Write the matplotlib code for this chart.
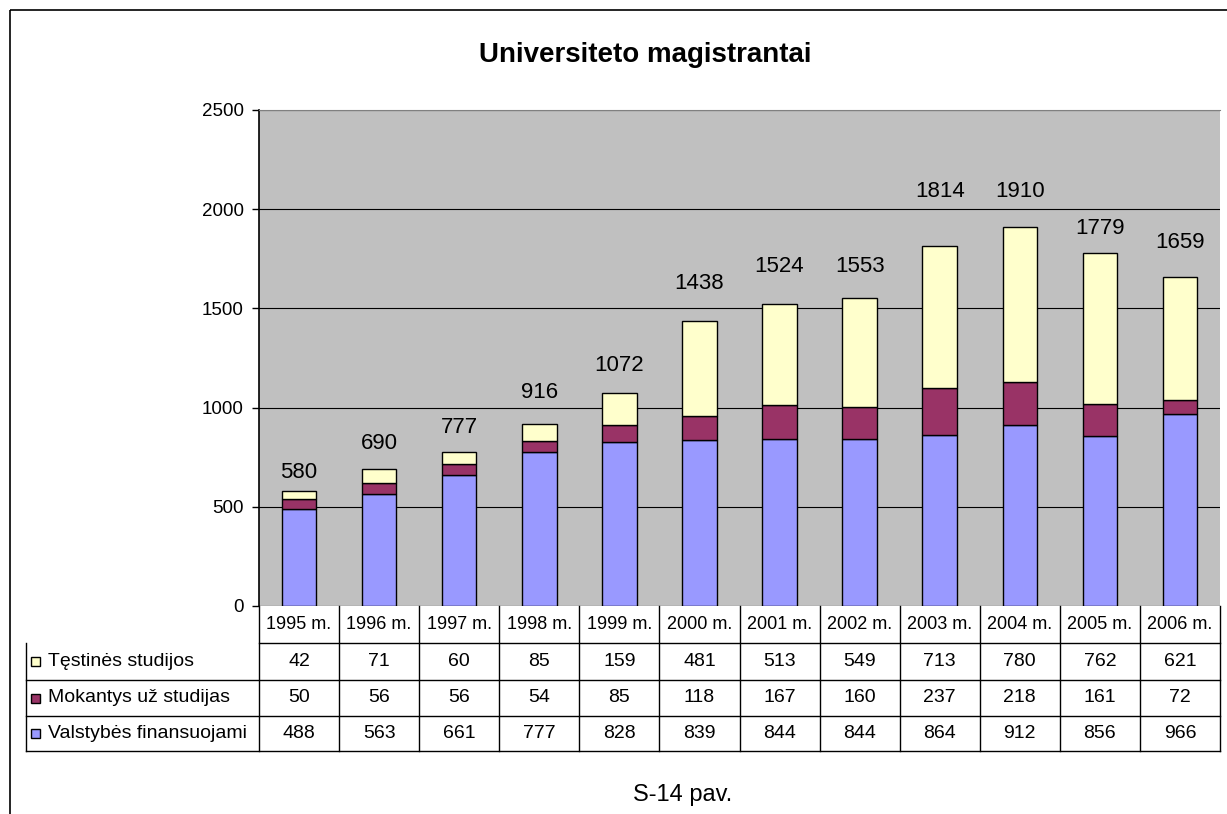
import numpy as np
import matplotlib.pyplot as plt
import matplotlib.transforms as mtransforms
from matplotlib.patches import Rectangle

plt.rcParams["font.family"] = ["Liberation Sans", "DejaVu Sans"]

YEARS = ["1995 m.", "1996 m.", "1997 m.", "1998 m.", "1999 m.", "2000 m.",
         "2001 m.", "2002 m.", "2003 m.", "2004 m.", "2005 m.", "2006 m."]
valstybes = [488, 563, 661, 777, 828, 839, 844, 844, 864, 912, 856, 966]
mokantys = [50, 56, 56, 54, 85, 118, 167, 160, 237, 218, 161, 72]
testines = [42, 71, 60, 85, 159, 481, 513, 549, 713, 780, 762, 621]

SERIES_LABELS = ["Tęstinės studijos", "Mokantys už studijas", "Valstybės finansuojami"]
COLORS = {"val": "#9999FF", "mok": "#993366", "tes": "#FFFFCC"}

# total labels were nudged by hand in the original: pixel gap from bar top to label centre
LABEL_GAP_PX = [18, 26, 24, 32, 28, 37, 37, 31, 55, 36, 25, 34]

W, H = 1227, 814


def main():
    fig = plt.figure(figsize=(W / 100, H / 100), dpi=100)
    # image-pixel coords (origin top-left) -> figure
    pix = mtransforms.Affine2D().scale(1 / W, -1 / H).translate(0, 1) + fig.transFigure

    ax = fig.add_axes([259 / W, 1 - 606 / H, (1220 - 259) / W, (606 - 110) / H])
    ax.set_facecolor("#C0C0C0")

    x = np.arange(len(YEARS))
    val = np.array(valstybes)
    mok = np.array(mokantys)
    tes = np.array(testines)
    total = val + mok + tes

    bw = 0.43
    ax.bar(x, val, bw, color=COLORS["val"], edgecolor="black", linewidth=1, zorder=3)
    ax.bar(x, mok, bw, bottom=val, color=COLORS["mok"], edgecolor="black", linewidth=1, zorder=3)
    ax.bar(x, tes, bw, bottom=val + mok, color=COLORS["tes"], edgecolor="black", linewidth=1, zorder=3)

    for xi, t, gap in zip(x, total, LABEL_GAP_PX):
        ax.annotate(str(t), (xi, t), xytext=(0, gap), textcoords="offset pixels",
                    ha="center", va="center", fontsize=16)

    ax.set_xlim(-0.5, len(YEARS) - 0.5)
    ax.set_ylim(0, 2500)
    ax.set_yticks(np.arange(0, 2501, 500))
    ax.tick_params(axis="y", labelsize=13.5, length=5, width=1, pad=6)
    ax.set_xticks([])
    ax.yaxis.grid(True, color="black", linewidth=0.8, zorder=1)
    ax.set_axisbelow(True)
    ax.spines["top"].set_color("#808080")
    ax.spines["right"].set_visible(False)
    ax.spines["bottom"].set_visible(False)
    ax.spines["left"].set_linewidth(1.2)

    # data table under the chart
    tx = mtransforms.blended_transform_factory(ax.transData, pix)
    rows_y = [606, 643, 680, 716, 751]
    lw = 1.0
    n = len(YEARS)
    fig.add_artist(plt.Line2D([-0.5, n - 0.5], [643, 643], transform=tx, color="black", lw=lw))
    for yy in rows_y[2:]:
        fig.add_artist(plt.Line2D([26, 1220], [yy, yy], transform=pix, color="black", lw=lw))
    for i in range(n + 1):
        fig.add_artist(plt.Line2D([i - 0.5, i - 0.5], [606, rows_y[-1]], transform=tx,
                                  color="black", lw=lw))
    fig.add_artist(plt.Line2D([26, 26], [643, rows_y[-1]], transform=pix, color="black", lw=lw))

    for i, yr in enumerate(YEARS):
        fig.text(i, (606 + 643) / 2, yr, transform=tx, ha="center", va="center", fontsize=13)

    table_rows = [(testines, COLORS["tes"]), (mokantys, COLORS["mok"]), (valstybes, COLORS["val"])]
    for r, ((vals, col), label) in enumerate(zip(table_rows, SERIES_LABELS)):
        yc = (rows_y[r + 1] + rows_y[r + 2]) / 2
        fig.add_artist(Rectangle((31, yc + 4.5), 9, -9, transform=pix, facecolor=col,
                                 edgecolor="black", lw=1))
        fig.text(48, yc, label, transform=pix, ha="left", va="center", fontsize=14)
        for i, v in enumerate(vals):
            fig.text(i, yc, str(v), transform=tx, ha="center", va="center", fontsize=14)

    fig.text(645, 55, "Universiteto magistrantai", transform=pix, ha="center", va="center",
             fontsize=20, fontweight="bold")
    fig.text(683, 795, "S-14 pav.", transform=pix, ha="center", va="center", fontsize=17)

    # outer frame (bottom and right run off the page in the original)
    fig.add_artist(Rectangle((10, 10), 1300, 900, transform=pix, fill=False,
                             edgecolor="black", lw=1.2))

    fig.savefig("out.png", dpi=100)
    plt.close(fig)


if __name__ == "__main__":
    main()
